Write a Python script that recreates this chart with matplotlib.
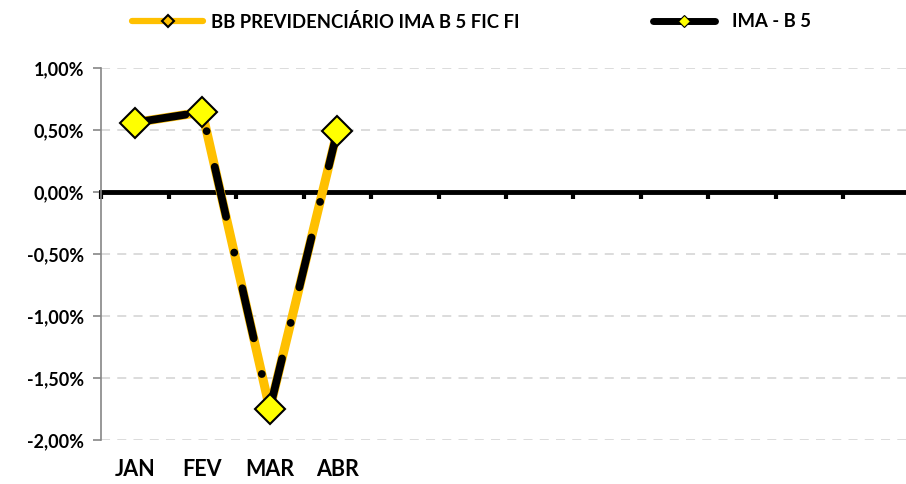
import numpy as np
import matplotlib.pyplot as plt
from matplotlib.lines import Line2D

# dados (rentabilidade mensal, %)
meses = ['JAN', 'FEV', 'MAR', 'ABR', '', '', '', '', '', '', '', '']
fundo = [0.56, 0.645, -1.75, 0.49]
ima_b5 = [0.56, 0.645, -1.75, 0.49]
nome_fundo = 'BB PREVIDENCIÁRIO IMA B 5 FIC FI'
nome_indice = 'IMA - B 5'
yticks = [1.0, 0.5, 0.0, -0.5, -1.0, -1.5, -2.0]

plt.rcParams['font.family'] = ['Lato', 'DejaVu Sans']

fig = plt.figure(figsize=(9.06, 4.84), dpi=100)
ax = fig.add_axes([0.1115, 0.0909, 0.894, 0.7686])

x = np.arange(len(fundo))
ax.plot(x, fundo, color='#FFC000', lw=6.5, solid_capstyle='round', zorder=3)
ax.plot(x, ima_b5, color='black', lw=5.6, dashes=[6.6, 4.7, 0.01, 4.7], dash_capstyle='round',
        marker='D', ms=15, mfc='#FFFF00', mec='black', mew=1.5, zorder=4)

ax.set_xlim(-0.5, len(meses) - 0.5)
ax.set_ylim(-2.0, 1.0)
ax.set_yticks(yticks)
ax.set_yticklabels([('%.2f%%' % v).replace('.', ',') for v in yticks],
                   fontsize=13, fontweight='bold')
ax.yaxis.grid(True, color='#D9D9D9', ls=(0, (5, 4)), lw=1.3)
ax.set_axisbelow(True)
ax.tick_params(axis='y', length=6, color='#868686', width=1.2, pad=6)

# eixo x no zero
ax.spines['bottom'].set_position(('data', 0))
ax.spines['bottom'].set_linewidth(3.5)
ax.spines['bottom'].set_zorder(2)
ax.spines['left'].set_color('#868686')
ax.spines['left'].set_linewidth(1.2)
ax.spines['top'].set_visible(False)
ax.spines['right'].set_visible(False)
ax.set_xticks(np.arange(len(meses) + 1) - 0.5)
ax.set_xticklabels([])
ax.tick_params(axis='x', length=5, width=3, color='black', direction='out')

for i, m in enumerate(meses):
    ax.text(i, -0.08, m, transform=ax.get_xaxis_transform(), ha='center', va='center',
            fontsize=15.5, fontweight='bold')

h1 = Line2D([], [], color='#FFC000', lw=4.5, solid_capstyle='round', marker='D', ms=6,
            mfc='#FFC000', mec='black', mew=1.5)
h2 = Line2D([], [], color='black', lw=5, solid_capstyle='round', marker='D', ms=6,
            mfc='#FFFF00', mec='black', mew=0.8)
prop = {'weight': 'bold', 'size': 13.35}
leg1 = fig.legend([h1], [nome_fundo], loc='center left', bbox_to_anchor=(132 / 906, 0.955),
                  frameon=False, borderpad=0, borderaxespad=0, handlelength=3.83,
                  handletextpad=0.45, prop=prop)
leg2 = fig.legend([h2], [nome_indice], loc='center left', bbox_to_anchor=(653 / 906, 0.955),
                  frameon=False, borderpad=0, borderaxespad=0, handlelength=3.35,
                  handletextpad=0.92, prop=prop)

fig.savefig('out.png', dpi=100)
